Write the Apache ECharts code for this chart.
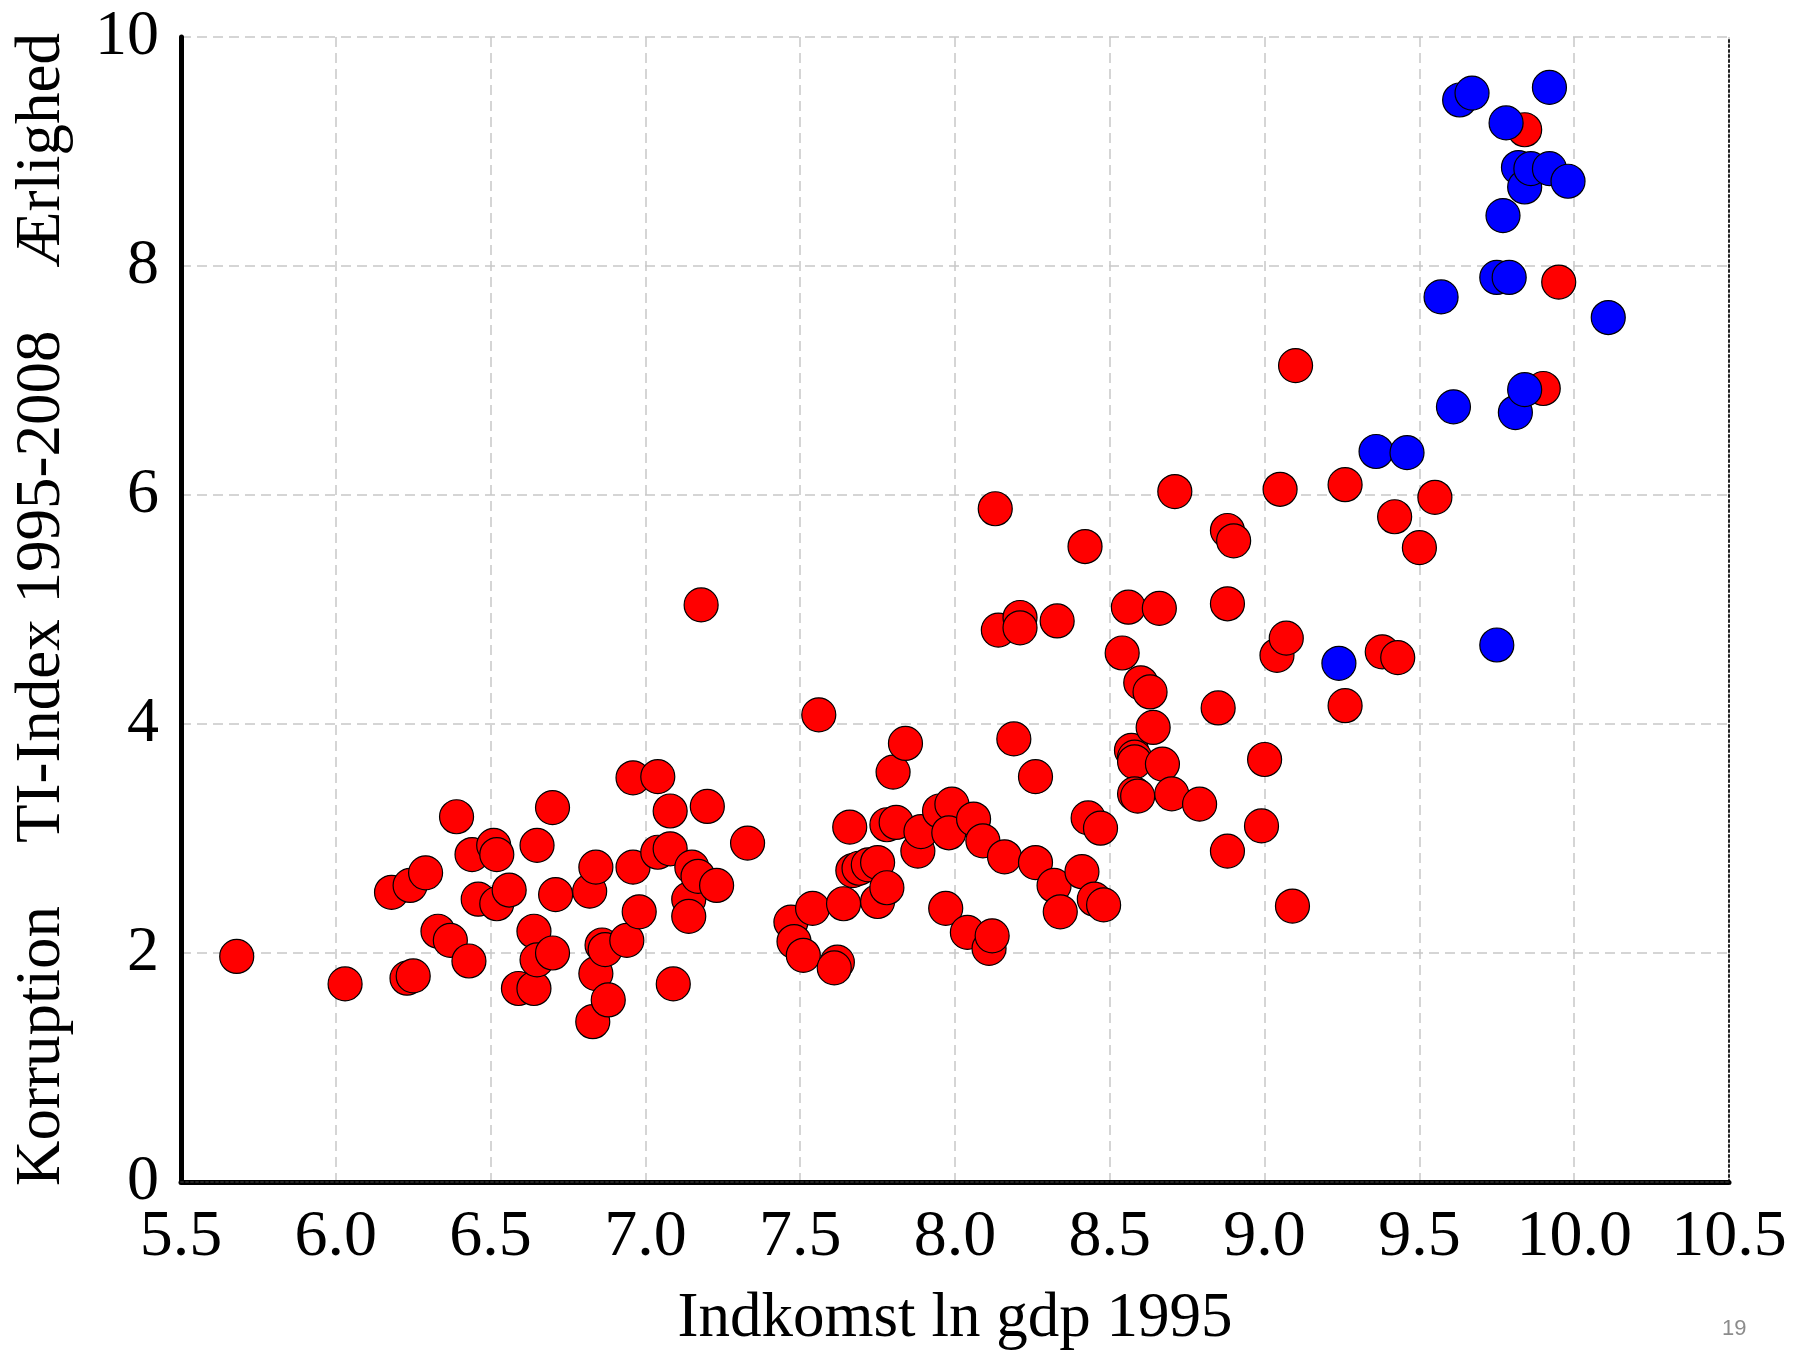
<!DOCTYPE html>
<html>
<head>
<meta charset="utf-8">
<title>Korruption vs indkomst</title>
<script src="https://cdn.jsdelivr.net/npm/echarts@6/dist/echarts.min.js"></script>
<style>
    html, body { margin: 0; padding: 0; background: #fff; }
    #chart { width: 1811px; height: 1356px; }
</style>
</head>
<body>
<div id="chart"></div>
<script>
// akser
var xTicks = [5.5, 6.0, 6.5, 7.0, 7.5, 8.0, 8.5, 9.0, 9.5, 10.0, 10.5];
var yTicks = [0, 2, 4, 6, 8, 10];

// røde lande [ln gdp, TI-index]
var redPoints = [
    [5.68, 1.97], [6.03, 1.73], [6.18, 2.53], [6.24, 2.59], [6.29, 2.70], [6.23, 1.78], [6.25, 1.80],
    [6.39, 3.19], [6.33, 2.19], [6.37, 2.11], [6.43, 1.93], [6.44, 2.86], [6.51, 2.94], [6.52, 2.86],
    [6.46, 2.47], [6.52, 2.43], [6.56, 2.55], [6.59, 1.69], [6.64, 1.69], [6.64, 2.19], [6.65, 2.94],
    [6.65, 1.94], [6.70, 2.00], [6.70, 3.27], [6.71, 2.51], [6.82, 2.54], [6.84, 2.75], [6.84, 1.82],
    [6.86, 2.07], [6.87, 2.03], [6.83, 1.40], [6.88, 1.59], [6.94, 2.11], [6.96, 2.75], [6.96, 3.53],
    [6.98, 2.36], [7.04, 3.54], [7.04, 2.88], [7.08, 2.91], [7.09, 1.73], [7.08, 3.24], [7.15, 2.75],
    [7.14, 2.47], [7.14, 2.32], [7.18, 5.04], [7.20, 3.28], [7.17, 2.67], [7.23, 2.59], [7.33, 2.96],
    [7.47, 2.27], [7.48, 2.10], [7.51, 1.98], [7.54, 2.39], [7.56, 4.08], [7.62, 1.92], [7.61, 1.87],
    [7.64, 2.43], [7.66, 3.10], [7.67, 2.72], [7.69, 2.74], [7.72, 2.77], [7.75, 2.79], [7.75, 2.45],
    [7.78, 2.57], [7.78, 3.12], [7.81, 3.14], [7.80, 3.58], [7.84, 3.83], [7.88, 2.89], [7.89, 3.06],
    [7.95, 3.24], [7.99, 3.30], [7.97, 2.39], [7.98, 3.05], [8.04, 2.18], [8.06, 3.17], [8.09, 2.98],
    [8.11, 2.04], [8.12, 2.15], [8.13, 5.88], [8.14, 4.82], [8.16, 2.84], [8.19, 3.87], [8.21, 4.93],
    [8.21, 4.84], [8.26, 2.79], [8.26, 3.54], [8.32, 2.59], [8.34, 2.36], [8.33, 4.90], [8.41, 2.71],
    [8.42, 5.55], [8.43, 3.18], [8.45, 2.47], [8.48, 2.42], [8.47, 3.09], [8.54, 4.62], [8.56, 5.02],
    [8.57, 3.77], [8.58, 3.71], [8.58, 3.67], [8.58, 3.39], [8.59, 3.37], [8.60, 4.36], [8.63, 4.28],
    [8.64, 3.97], [8.66, 5.01], [8.67, 3.65], [8.70, 3.39], [8.71, 6.03], [8.79, 3.30], [8.85, 4.14],
    [8.88, 5.69], [8.90, 5.60], [8.88, 5.05], [8.88, 2.89], [8.99, 3.11], [9.00, 3.69], [9.04, 4.60],
    [9.05, 6.05], [9.07, 4.75], [9.09, 2.41], [9.10, 7.13], [9.26, 6.09], [9.26, 4.16], [9.38, 4.63],
    [9.42, 5.81], [9.43, 4.58], [9.50, 5.54], [9.55, 5.98], [9.84, 9.19], [9.95, 7.86], [9.90, 6.93]
];

// blå lande
var bluePoints = [
    [9.24, 4.53], [9.36, 6.38], [9.46, 6.37], [9.57, 7.73], [9.61, 6.77], [9.63, 9.45], [9.67, 9.51],
    [9.75, 4.69], [9.77, 8.44], [9.75, 7.90], [9.79, 7.90], [9.78, 9.25], [9.92, 9.56], [9.81, 6.72],
    [9.84, 6.92], [9.82, 8.86], [9.84, 8.69], [9.86, 8.85], [9.92, 8.85], [9.98, 8.74], [10.11, 7.55]
];

var serif = '"Liberation Serif", "Times New Roman", serif';

var option = {
    animation: false,
    backgroundColor: '#fff',
    grid: {
        left: 181,
        right: 82,
        top: 37,
        bottom: 173
    },
    xAxis: [
        {
            type: 'value',
            min: xTicks[0],
            max: xTicks[xTicks.length - 1],
            interval: 0.5,
            name: 'Indkomst ln gdp 1995',
            nameLocation: 'middle',
            nameGap: 106,
            nameTextStyle: { fontFamily: serif, fontSize: 63, color: '#000' },
            axisLine: { lineStyle: { color: '#000', width: 5 } },
            axisTick: { show: false },
            axisLabel: {
                margin: 23,
                fontFamily: serif,
                fontSize: 66,
                color: '#000',
                formatter: function (v) { return v.toFixed(1); }
            },
            splitLine: {
                show: true,
                lineStyle: { color: '#c8c8c8', width: 1.5, type: [10, 6] }
            }
        },
        {
            // prikket kant foroven
            type: 'value',
            position: 'top',
            min: xTicks[0],
            max: xTicks[xTicks.length - 1],
            axisLine: { show: true, lineStyle: { color: '#222', width: 2, type: [2, 3] } },
            axisTick: { show: false },
            axisLabel: { show: false },
            splitLine: { show: false }
        }
    ],
    yAxis: [
        {
            type: 'value',
            min: yTicks[0],
            max: yTicks[yTicks.length - 1],
            interval: 2,
            name: 'Korruption    TI-Index 1995-2008    Ærlighed',
            nameLocation: 'middle',
            nameGap: 107,
            nameTextStyle: { fontFamily: serif, fontSize: 63, color: '#000' },
            axisLine: { show: true, lineStyle: { color: '#000', width: 5 } },
            axisTick: { show: false },
            axisLabel: {
                margin: 22,
                fontFamily: serif,
                fontSize: 64,
                color: '#000'
            },
            splitLine: {
                show: true,
                lineStyle: { color: '#c8c8c8', width: 1.5, type: [10, 6] }
            }
        },
        {
            // prikket kant til højre
            type: 'value',
            position: 'right',
            min: yTicks[0],
            max: yTicks[yTicks.length - 1],
            axisLine: { show: true, lineStyle: { color: '#222', width: 2, type: [2, 3] } },
            axisTick: { show: false },
            axisLabel: { show: false },
            splitLine: { show: false }
        }
    ],
    graphic: [
        {
            type: 'text',
            left: 1722,
            top: 1318,
            style: {
                text: '19',
                fontFamily: '"Liberation Sans", sans-serif',
                fontSize: 22,
                fill: '#8c8c8c'
            }
        }
    ],
    series: [
        {
            name: 'rød',
            type: 'scatter',
            data: redPoints,
            symbol: 'circle',
            symbolSize: 34,
            itemStyle: { color: '#ff0000', borderColor: '#000', borderWidth: 1.2, opacity: 1 },
            emphasis: { disabled: true }
        },
        {
            name: 'blå',
            type: 'scatter',
            data: bluePoints,
            symbol: 'circle',
            symbolSize: 34,
            itemStyle: { color: '#0000ff', borderColor: '#000', borderWidth: 1.2, opacity: 1 },
            emphasis: { disabled: true }
        }
    ]
};

var myChart = echarts.init(document.getElementById('chart'), null, { renderer: 'canvas' });
myChart.setOption(option, true);
</script>
</body>
</html>
